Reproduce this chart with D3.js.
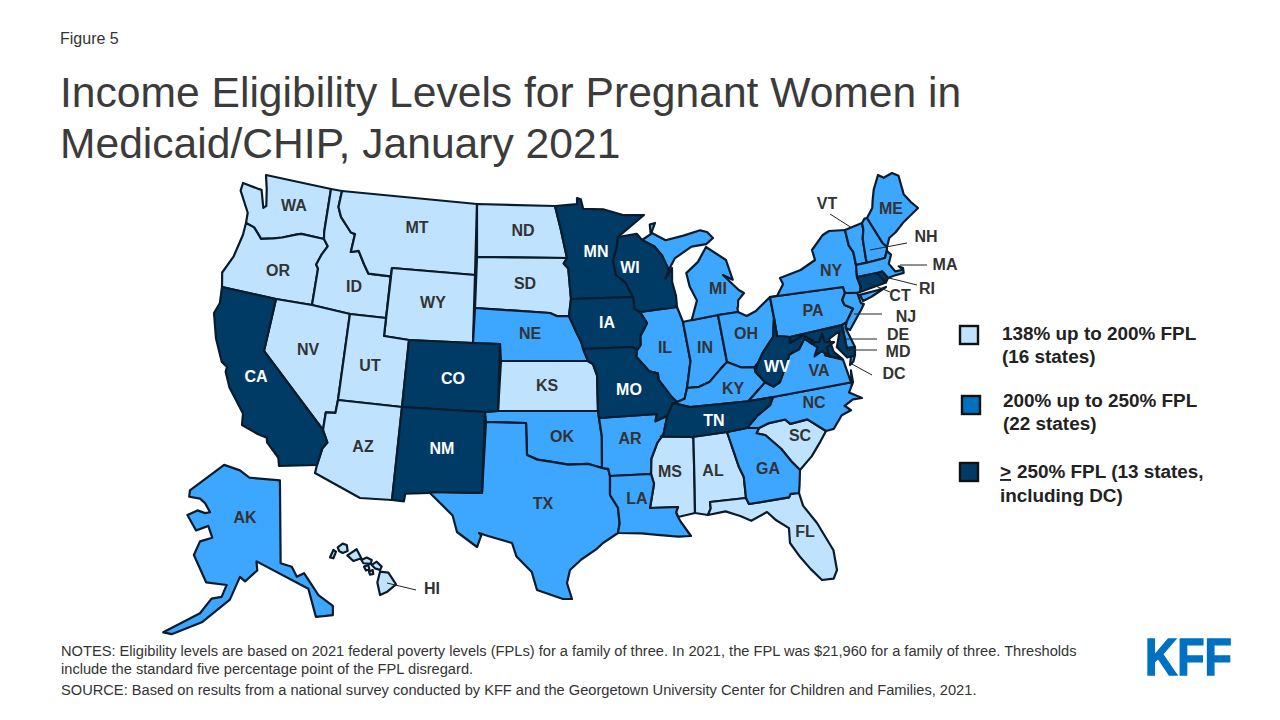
<!DOCTYPE html>
<html>
<head>
<meta charset="utf-8">
<script src="https://cdn.jsdelivr.net/npm/d3@7"></script>
<style>
  html, body { margin: 0; padding: 0; background: #fff; }
  svg { display: block; font-family: "Liberation Sans", Arial, sans-serif; }
  .state { stroke: #0a1c2b; stroke-width: 2.2; stroke-linejoin: round; }
  .abbr { font-size: 16px; font-weight: bold; text-anchor: middle; }
  .leader { stroke: #222; stroke-width: 1; }
</style>
</head>
<body>
<div id="chart"></div>
<script>
// Eligibility tiers
const tierNames = ['138% up to 200% FPL', '200% up to 250% FPL', '> 250% FPL'];
const tierFill = ['#bfe3ff', '#3da6ff', '#003b66'];
const tierKey = ['#bfe3ff', '#0070c0', '#003b66'];
const lowStates = ['WA','OR','ID','MT','WY','ND','SD','NV','UT','AZ','KS','MS','AL','SC','FL','HI'];
const midStates = ['NE','OK','TX','AR','LA','IL','IN','MI','OH','KY','GA','NC','VA','PA','NY','VT','NH','ME','MA','NJ','DE','AK'];
const highStates = ['CA','CO','NM','MN','WI','IA','MO','TN','WV','MD','CT','RI','DC'];

// State outlines, simplified, lon/lat
const WA = [[[-124.7,48.4],[-123.2,48.15],[-122.85,48.1],[-122.6,47.3],[-122.3,47.4],[-122.4,48.2],[-122.8,49],[-117.03,49],[-117.04,46.42],[-116.92,45.99],[-118.98,46],[-119.3,45.93],[-120.5,45.7],[-121.2,45.65],[-122.3,45.55],[-122.8,45.9],[-123.2,46.15],[-124,46.27],[-124.1,46.9],[-124.7,47.9]]];
const OR = [[[-124,46.27],[-123.2,46.15],[-122.8,45.9],[-122.3,45.55],[-121.2,45.65],[-120.5,45.7],[-119.3,45.93],[-118.98,46],[-116.92,45.99],[-116.46,45.6],[-116.85,45],[-117.2,44.4],[-117.03,44.2],[-117.03,42],[-120,42],[-124.2,42],[-124.55,42.85],[-124.1,44],[-123.95,45.5]]];
const CA = [[[-124.2,42],[-120,42],[-120,39],[-114.63,35],[-114.14,34.3],[-114.5,33.9],[-114.72,32.72],[-117.12,32.53],[-117.3,33],[-118.4,33.75],[-118.5,34.03],[-119.2,34.15],[-120.5,34.45],[-120.65,35.15],[-121.9,36.6],[-122.5,37.5],[-122.5,37.8],[-123,38],[-123.75,39],[-124.35,40.3],[-124.1,41]]];
const NV = [[[-120,42],[-117.03,42],[-114.04,42],[-114.05,37],[-114.04,36.2],[-114.74,36.1],[-114.63,35],[-120,39]]];
const ID = [[[-117.03,49],[-116.05,49],[-116.05,48],[-115.7,47.45],[-114.7,46.7],[-114.35,46.65],[-114.5,45.55],[-113.95,45.7],[-113.45,44.95],[-113,44.45],[-111.05,44.48],[-111.05,42],[-114.04,42],[-117.03,42],[-117.03,44.2],[-117.2,44.4],[-116.85,45],[-116.46,45.6],[-116.92,45.99],[-117.04,46.42]]];
const MT = [[[-116.05,49],[-104.05,49],[-104.05,45],[-111.05,45],[-111.05,44.48],[-113,44.45],[-113.45,44.95],[-113.95,45.7],[-114.5,45.55],[-114.35,46.65],[-114.7,46.7],[-115.7,47.45],[-116.05,48]]];
const WY = [[[-111.05,45],[-104.05,45],[-104.05,41],[-109.05,41],[-111.05,41]]];
const UT = [[[-114.05,42],[-111.05,42],[-111.05,41],[-109.05,41],[-109.05,37],[-114.05,37]]];
const CO = [[[-109.05,41],[-104.05,41],[-102.05,41],[-102.05,37],[-103,37],[-109.05,37]]];
const AZ = [[[-114.74,36.1],[-114.04,36.2],[-114.05,37],[-109.05,37],[-109.05,31.33],[-111.07,31.33],[-114.81,32.5],[-114.72,32.72],[-114.5,33.9],[-114.14,34.3],[-114.63,35]]];
const NM = [[[-109.05,37],[-103,37],[-103.04,32],[-106.62,32],[-106.53,31.78],[-108.2,31.78],[-108.2,31.33],[-109.05,31.33]]];
const ND = [[[-104.05,49],[-97.23,49],[-96.85,47.6],[-96.56,45.94],[-104.05,45.94]]];
const SD = [[[-104.05,45.94],[-96.56,45.94],[-96.85,45.6],[-96.45,45.3],[-96.45,43.5],[-96.5,42.5],[-97.9,42.8],[-98.5,43],[-104.05,43]]];
const NE = [[[-104.05,43],[-98.5,43],[-97.9,42.8],[-96.5,42.5],[-96.1,41.7],[-95.9,41],[-95.3,40],[-102.05,40],[-102.05,41],[-104.05,41]]];
const KS = [[[-102.05,40],[-95.3,40],[-94.9,39.8],[-94.6,39.1],[-94.62,37],[-102.05,37]]];
const OK = [[[-103,37],[-102.05,37],[-94.62,37],[-94.62,36.5],[-94.43,35.4],[-94.48,33.64],[-95.5,33.88],[-97,33.85],[-98.1,34.13],[-99.2,34.3],[-100,34.56],[-100,36.5],[-103,36.5]]];
const TX = [[[-106.62,32],[-103.04,32],[-103,36.5],[-100,36.5],[-100,34.56],[-99.2,34.3],[-98.1,34.13],[-97,33.85],[-95.5,33.88],[-94.48,33.64],[-94.04,33.55],[-94.04,33],[-94.04,32],[-93.55,31.2],[-93.7,30.3],[-93.85,29.7],[-94.7,29.4],[-95.2,29],[-96.4,28.35],[-97.2,27.7],[-97.4,26.9],[-97.15,25.96],[-97.6,25.9],[-99.1,26.4],[-99.5,27.5],[-100.3,28.3],[-100.7,29.1],[-101.4,29.77],[-102.3,29.88],[-102.7,29.7],[-103.15,28.98],[-104.5,29.6],[-104.9,30.6],[-106.53,31.78]]];
const MN = [[[-97.23,49],[-95.15,49],[-95.15,49.38],[-94.8,49.3],[-94.6,48.7],[-93,48.6],[-91.5,48.1],[-89.6,48],[-92.1,46.75],[-92.3,46.1],[-92.9,45.6],[-92.75,44.75],[-91.9,44.3],[-91.22,43.5],[-96.45,43.5],[-96.45,45.3],[-96.85,45.6],[-96.56,45.94],[-96.85,47.6]]];
const IA = [[[-96.45,43.5],[-91.22,43.5],[-91.1,42.7],[-90.64,42.5],[-90.15,41.8],[-91.05,41.2],[-91.1,40.7],[-91.42,40.38],[-91.73,40.6],[-95.77,40.58],[-95.9,41],[-96.1,41.7],[-96.5,42.5]]];
const MO = [[[-95.77,40.58],[-91.73,40.6],[-91.42,40.38],[-91.5,40],[-90.7,39],[-90.15,38.8],[-90.2,38.4],[-89.5,37.3],[-89.1,36.95],[-89.4,36.5],[-89.7,36],[-90.37,36],[-90.15,36.5],[-94.62,36.5],[-94.62,37],[-94.6,39.1],[-94.9,39.8],[-95.3,40]]];
const AR = [[[-94.62,36.5],[-90.15,36.5],[-90.37,36],[-89.7,36],[-90.1,35.1],[-90.6,34.7],[-91.1,33.9],[-91.17,33],[-94.04,33],[-94.04,33.55],[-94.48,33.64],[-94.43,35.4]]];
const LA = [[[-94.04,33],[-91.17,33],[-91,32.4],[-91.6,31],[-89.73,31],[-89.85,30.65],[-89.55,30.2],[-89.4,29.9],[-89.4,29.1],[-90.2,29.1],[-91.3,29.3],[-92.2,29.55],[-93.85,29.7],[-93.7,30.3],[-93.55,31.2],[-94.04,32]]];
const MS = [[[-91.17,33],[-91.1,33.9],[-90.6,34.7],[-90.3,35],[-88.2,35],[-88.1,34.9],[-88.47,31.9],[-88.4,30.3],[-89.55,30.2],[-89.85,30.65],[-89.73,31],[-91.6,31],[-91,32.4]]];
const AL = [[[-88.2,35],[-85.6,35],[-85.18,32.87],[-85,32.3],[-85.05,31],[-87.6,31],[-87.4,30.65],[-87.5,30.3],[-88.4,30.3],[-88.47,31.9],[-88.1,34.9]]];
const GA = [[[-85.6,35],[-84.32,35],[-83.1,35],[-83.35,34.7],[-82.7,34.5],[-81.9,33.5],[-81.4,32.6],[-80.9,32.03],[-81.3,31.2],[-81.45,30.72],[-82.05,30.75],[-82.2,30.55],[-84.86,30.7],[-85.05,31],[-85,32.3],[-85.18,32.87]]];
const FL = [[[-87.6,31],[-85.05,31],[-84.86,30.7],[-82.2,30.55],[-82.05,30.75],[-81.45,30.72],[-81.3,29.9],[-80.55,28.4],[-80.05,26.9],[-80.15,25.75],[-80.4,25.2],[-81.1,25.15],[-81.75,25.95],[-82.2,26.9],[-82.75,27.9],[-82.65,28.8],[-83.4,29.5],[-84,30.1],[-85,29.65],[-85.6,30],[-86.4,30.38],[-87.5,30.3],[-87.4,30.65]]];
const SC = [[[-83.1,35],[-82.3,35.2],[-81.05,35.15],[-80.8,34.82],[-79.68,34.8],[-78.55,33.86],[-79.2,33.2],[-79.9,32.7],[-80.9,32.03],[-81.4,32.6],[-81.9,33.5],[-82.7,34.5],[-83.35,34.7]]];
const NC = [[[-84.32,35],[-83.1,35],[-82.3,35.2],[-81.05,35.15],[-80.8,34.82],[-79.68,34.8],[-78.55,33.86],[-77.95,33.9],[-77.2,34.6],[-76.5,34.7],[-76.9,35.1],[-76.2,35.3],[-75.5,35.25],[-76.4,36],[-75.9,36.55],[-81.68,36.59],[-82,36.13],[-83.1,35.75]]];
const TN = [[[-90.3,35],[-88.2,35],[-85.6,35],[-84.32,35],[-83.1,35.75],[-82,36.13],[-81.68,36.59],[-83.68,36.6],[-88.07,36.5],[-89.4,36.5],[-89.7,36],[-90.1,35.1]]];
const KY = [[[-89.4,36.5],[-88.07,36.5],[-83.68,36.6],[-81.97,37.54],[-82.6,38.17],[-82.6,38.4],[-83.7,38.63],[-84.8,39.1],[-85.4,38.7],[-86.3,38],[-87.1,37.8],[-88.05,37.8],[-88.45,37.1],[-89.1,36.95]]];
const VA = [[[-83.68,36.6],[-81.68,36.59],[-75.9,36.55],[-76,37],[-76.3,37],[-76.3,37.9],[-77,38.3],[-77.05,38.85],[-77.5,39.1],[-77.83,39.13],[-78.35,39.4],[-78.87,38.76],[-79.65,38.58],[-80.3,37.5],[-81.22,37.24],[-81.97,37.54]],[[-75.95,37.15],[-75.6,37.95],[-75.25,38.03],[-75.6,37.5]]];
const WV = [[[-81.97,37.54],[-81.22,37.24],[-80.3,37.5],[-79.65,38.58],[-78.87,38.76],[-78.35,39.4],[-77.83,39.13],[-77.72,39.32],[-78.4,39.62],[-79.48,39.2],[-79.48,39.72],[-80.52,39.72],[-80.52,40.64],[-80.85,39.7],[-81.75,39],[-82.2,38.6],[-82.6,38.17]]];
const OH = [[[-84.8,41.76],[-83.45,41.73],[-82.7,41.45],[-81.7,41.5],[-80.52,41.98],[-80.52,40.64],[-80.85,39.7],[-81.75,39],[-82.2,38.6],[-82.6,38.4],[-83.7,38.63],[-84.8,39.1]]];
const IN = [[[-87.53,41.72],[-87.2,41.76],[-84.8,41.76],[-84.8,39.1],[-85.4,38.7],[-86.3,38],[-87.1,37.8],[-88.05,37.8],[-87.53,39.35]]];
const IL = [[[-90.64,42.5],[-87.8,42.5],[-87.53,41.72],[-87.53,39.35],[-88.05,37.8],[-88.45,37.1],[-89.1,36.95],[-89.5,37.3],[-90.2,38.4],[-90.15,38.8],[-90.7,39],[-91.5,40],[-91.42,40.38],[-91.1,40.7],[-91.05,41.2],[-90.15,41.8]]];
const WI = [[[-92.1,46.75],[-90.8,46.95],[-90.4,46.55],[-89.1,46.15],[-88.1,45.9],[-87.6,45.1],[-88,44.55],[-87.3,45.2],[-87.5,44.3],[-87.8,43.2],[-87.8,42.5],[-90.64,42.5],[-91.1,42.7],[-91.22,43.5],[-91.9,44.3],[-92.75,44.75],[-92.9,45.6],[-92.3,46.1]]];
const MI = [[[-86.8,41.76],[-84.8,41.76],[-83.45,41.73],[-83.1,42.2],[-82.5,42.6],[-82.45,43],[-82.6,43.9],[-83,44.07],[-83.9,43.65],[-83.3,44.3],[-83.3,45],[-84.75,45.78],[-85.5,45],[-86.25,44.7],[-86.5,43.7],[-86.2,42.8]],[[-90.4,46.55],[-89.2,46.85],[-88.4,47.4],[-87.9,47.47],[-88.4,46.9],[-87.4,46.5],[-86.2,46.65],[-85,46.75],[-84.4,46.5],[-83.9,46],[-84.7,45.95],[-85.9,45.95],[-87,45.75],[-87.6,45.1],[-88.1,45.9],[-89.1,46.15]]];
const PA = [[[-80.52,41.98],[-79.76,42.27],[-79.76,42],[-75.35,42],[-74.7,41.36],[-75.13,40.98],[-75.2,40.65],[-74.72,40.15],[-75.4,39.8],[-75.79,39.72],[-79.48,39.72],[-80.52,39.72],[-80.52,40.64]]];
const NY = [[[-79.76,42.27],[-78.9,42.85],[-79.05,43.27],[-77.5,43.25],[-76.2,43.55],[-76.3,44.1],[-75.3,44.85],[-74.7,45],[-73.35,45],[-73.4,44],[-73.25,43.55],[-73.27,42.75],[-73.5,42.05],[-73.5,41.3],[-73.65,41],[-73.9,41],[-74.7,41.36],[-75.35,42],[-79.76,42]],[[-74,40.6],[-73.75,40.85],[-72.6,40.98],[-72,41.05],[-73,40.62]]];
const VT = [[[-73.35,45],[-71.5,45],[-71.55,44.6],[-72.05,44.1],[-72.45,43],[-72.46,42.73],[-73.27,42.75],[-73.25,43.55],[-73.4,44]]];
const NH = [[[-71.5,45],[-71.3,45.3],[-71.08,45.3],[-70.98,43.4],[-70.7,43.07],[-70.82,42.87],[-71.3,42.7],[-72.46,42.73],[-72.45,43],[-72.05,44.1],[-71.55,44.6]]];
const ME = [[[-71.08,45.3],[-70.4,45.8],[-70.25,46.2],[-70,46.7],[-69.23,47.46],[-68.9,47.2],[-68.3,47.35],[-67.8,47.07],[-67.78,45.9],[-67.45,45.3],[-67,44.8],[-68.5,44.3],[-69.5,43.9],[-70.3,43.6],[-70.7,43.07],[-70.98,43.4]]];
const MA = [[[-73.5,42.05],[-73.27,42.75],[-72.46,42.73],[-71.3,42.7],[-70.82,42.87],[-70.6,42.65],[-71,42.3],[-70.55,41.8],[-70,41.8],[-70.25,42.07],[-69.95,41.9],[-70,41.6],[-70.65,41.55],[-71.13,41.5],[-71.38,42.02],[-71.8,42.02]]];
const CT = [[[-73.5,42.05],[-71.8,42.02],[-71.85,41.32],[-73.65,41],[-73.5,41.3]]];
const RI = [[[-71.8,42.02],[-71.38,42.02],[-71.13,41.5],[-71.85,41.32]]];
const NJ = [[[-74.7,41.36],[-73.9,41],[-74.2,40.5],[-73.98,40.4],[-74.1,39.75],[-74.9,38.93],[-75.55,39.5],[-75.4,39.8],[-74.72,40.15],[-75.2,40.65],[-75.13,40.98]]];
const DE = [[[-75.79,39.72],[-75.4,39.8],[-75.55,39.5],[-75.05,38.45],[-75.7,38.46]]];
const MD = [[[-79.48,39.72],[-75.79,39.72],[-75.7,38.46],[-75.05,38.45],[-75.25,38.03],[-75.9,37.95],[-76.2,38.6],[-76.05,39.4],[-76.5,39.2],[-76.45,38.4],[-76.3,37.95],[-77,38.3],[-77.05,38.85],[-77.5,39.1],[-77.83,39.13],[-77.72,39.32],[-78.4,39.62],[-79.48,39.2]]];
const AK = [[[-156.8,71.3],[-152.4,70.7],[-149.8,69.9],[-141.3,69.6],[-141.1,60.5],[-138,60.1],[-136.6,59],[-134.6,59.4],[-130.6,57],[-126.6,55.8],[-126.6,54.8],[-131.3,54.6],[-133.4,57.7],[-147.8,60.7],[-147.6,59.7],[-151,58.5],[-152.4,59],[-155.2,56.5],[-163,54],[-171.4,52.7],[-173.7,52.9],[-163.5,55],[-160.3,56.6],[-157.5,56.8],[-156.1,58.1],[-161.8,58.4],[-165.2,61.4],[-163.5,62.9],[-160.1,63.3],[-161.2,64.6],[-164.6,64.1],[-167,65.8],[-164.2,66.3],[-162.1,66],[-160.7,66.1],[-162.1,67.1],[-163.5,67.6],[-166.5,67.8],[-166.3,68.5]]];
const HI = [
  [[-160.67,21.39],[-160.36,21.91],[-160.12,21.79],[-160.36,21.32]],
  [[-159.96,22.1],[-159.5,22.36],[-159.13,22.26],[-159.04,21.84],[-159.5,21.7],[-159.84,21.84]],
  [[-159.07,21.53],[-158.21,21.96],[-157.78,21.32],[-158.52,21.13]],
  [[-157.78,21.2],[-157.28,21.37],[-156.82,21.2],[-156.92,20.92],[-157.59,20.97]],
  [[-156.82,20.85],[-156.36,21.08],[-155.9,20.73],[-156.05,20.49],[-156.52,20.61]],
  [[-157.53,20.73],[-157.13,20.85],[-157.04,20.54],[-157.35,20.45]],
  [[-157.07,20.38],[-156.73,20.49],[-156.67,20.21],[-156.98,20.16]],
  [[-156.05,20.38],[-155.28,20.3],[-154.57,19.48],[-155.38,18.96],[-156.05,18.72],[-156.3,19.6]]
];
const dcPoint = [-77.03, 38.9];

const outlines = {WA,OR,CA,NV,ID,MT,WY,UT,CO,AZ,NM,ND,SD,NE,KS,OK,TX,MN,IA,MO,AR,LA,MS,AL,GA,FL,SC,NC,TN,KY,VA,WV,OH,IN,IL,WI,MI,PA,NY,VT,NH,ME,MA,CT,RI,NJ,DE,MD,AK,HI};

// The source map is drawn a bit out of true, so the projection gets bent onto
// these reference spots [lon, lat, x, y]
const warpSpots = [
  [-124.7,48.4,243,183],[-122.8,49,266,175],[-117.03,49,331,189],[-116.05,49,342,191],[-104.05,49,477,204],
  [-116.92,45.99,324,239],[-124,46.27,246,223],[-124.2,42,222,287],[-117.03,42,312,305],[-120,42,276,299],
  [-114.04,42,350,314],[-111.05,42,386,318],[-111.05,45,392,268],[-104.05,45,475,275],[-111.05,41,384,336],
  [-109.05,41,409,340],[-104.05,41,473,343],[-102.05,41,500,344],[-102.05,37,498,411],[-109.05,37,402,407],
  [-114.05,37,338,400],[-120,39,264,351],[-114.63,35,323,430],[-114.72,32.72,317,465],[-117.12,32.53,279,466],
  [-120.5,34.45,242,425],[-122.5,37.8,227,367],[-124.35,40.3,214,313],[-114.81,32.5,315,473],[-111.07,31.33,360,498],
  [-109.05,31.33,392,500],[-103,37,485,412],[-103.04,32,482,493],[-106.62,32,430,492],
  [-97.23,49,555,206],[-95.15,49.38,577,198],[-89.6,48,644,215],[-92.1,46.75,618,237],[-96.56,45.94,567,258],
  [-104.05,45.94,477,257],[-104.05,43,475,308],[-98.5,43,550,313],[-96.5,42.5,569,316],[-96.45,43.5,571,299],
  [-91.22,43.5,633,297],[-90.64,42.5,640,312],[-87.8,42.5,677,307],[-87.53,41.72,683,322],[-84.8,41.76,718,315],
  [-83.45,41.73,738,312],[-95.77,40.58,583,349],[-91.73,40.6,633,347],[-95.3,40,588,361],[-102.05,40,501,361],
  [-94.62,37,598,411],[-89.4,36.5,673,403],[-89.1,36.95,677,402],[-88.05,37.8,687,388],[-84.8,39.1,727,362],
  [-92.75,44.75,616,275],[-90.4,46.55,642,240],[-87.9,47.47,655,223],[-83.9,46,713,238],[-87.3,45.2,672,268],
  [-84.75,45.78,706,247],[-82.6,43.9,744,293],[-83.9,43.65,723,275],[-82.5,42.6,738,307],[-94.62,36.5,599,418],[-90.15,36.5,657,414],
  [-103,36.5,486,422],[-100,36.5,526,423],[-100,34.56,527,455],[-94.48,33.64,602,468],[-94.04,33,610,476],
  [-91.17,33,651,474],[-94.04,32,610,495],[-93.85,29.7,618,533],[-94.7,29.4,603,543],[-97.2,27.7,570,570],
  [-97.15,25.96,572,599],[-97.6,25.9,563,599],[-99.1,26.4,537,590],[-100.7,29.1,512,543],[-101.4,29.77,488,536],
  [-103.15,28.98,477,547],[-104.5,29.6,457,532],[-106.53,31.78,430,493],[-89.4,29.1,691,536],[-91.6,31,650,508],[-89.73,31,678,507],
  [-88.2,35,692,437],[-85.6,35,727,432],[-83.1,35,759,428],[-84.32,35,747,428],[-81.68,36.59,773,397],
  [-75.9,36.55,853,382],[-75.5,35.25,862,398],[-78.55,33.86,826,431],[-80.9,32.03,800,470],[-81.45,30.72,799,493],
  [-84.86,30.7,749,504],[-85.05,31,746,498],[-87.6,31,710,502],[-88.4,30.3,695,513],[-81.1,25.15,822,580],
  [-80.15,25.75,837,570],[-80.55,28.4,817,523],[-82.75,27.9,790,543],[-84,30.1,767,512],[-87.5,30.3,708,515],[-89.55,30.2,678,517],
  [-69.23,47.46,878,175],[-68.3,47.35,892,173],[-67,44.8,918,208],[-70.7,43.07,887,247],[-71.08,45.3,867,218],
  [-71.5,45,862,223],[-73.35,45,845,230],[-74.7,45,829,231],[-76.3,44.1,812,250],[-76.2,43.55,815,260],
  [-79.05,43.27,780,278],[-79.76,42.27,777,296],[-75.35,42,843,287],[-79.76,42,770,297],[-80.52,41.98,770,297],
  [-80.52,39.72,777,336],[-80.52,40.64,774,318],[-75.79,39.72,842,325],[-73.27,42.75,856,265],[-71.3,42.7,885,258],
  [-73.5,42.05,857,277],[-71.8,42.02,877,273],[-69.95,41.9,903,268],[-71.13,41.5,888,278],[-73.65,41,860,292],
  [-72,41.05,886,287],[-74,40.6,863,301],[-74.7,41.36,845,293],[-74.9,38.93,850,330],[-74.1,39.75,861,310],
  [-75.05,38.45,855,347],[-75.25,38.03,855,355],[-75.95,37.15,850,365],[-77.03,38.9,822,346],
  [-80.3,37.5,780,382],[-79.48,39.72,790,337],[-79.48,39.2,790,343],[-76.3,37,852,385]
];

// Label spots inside the states [name, x, y]
const insideLabels = [['WA',294,205],['OR',278,270],['ID',354,286],['MT',417,227],['WY',433,302],['ND',523,230],['SD',525,283],['NV',308,349],['UT',370,365],['AZ',363,446],['CA',256,376],['CO',453,378],['NM',442,448],['NE',530,333],['KS',547,385],['OK',562,436],['TX',543,503],['MN',596,251],['IA',607,322],['MO',629,389],['AR',630,438],['LA',637,498],['WI',630,267],['IL',665,347],['IN',705,347],['MI',718,288],['OH',746,333],['KY',733,388],['TN',714,420],['MS',670,471],['AL',713,470],['GA',768,468],['FL',805,531],['SC',800,435],['NC',814,402],['VA',819,370],['WV',777,366],['PA',813,310],['NY',831,270],['ME',891,208],['AK',245,517]];
// Labels outside the map, with leader line [name, x, y, x1, y1, x2, y2]
const outsideLabels = [['VT',827,203,830,214,852,228],['NH',926,236,907,243,870,250],['MA',945,264,927,265,900,265],['RI',927,288,917,285,885,277],['CT',900,295,890,292,868,283],['NJ',906,316,882,314,854,314],['DE',898,334,877,339,845,339],['MD',898,351,877,350,845,350],['DC',894,373,872,375,850,363],['HI',432,588,416,590,387,583]];

const titleLines = ['Income Eligibility Levels for Pregnant Women in', 'Medicaid/CHIP, January 2021'];
const noteLines = [
  'NOTES: Eligibility levels are based on 2021 federal poverty levels (FPLs) for a family of three. In 2021, the FPL was $21,960 for a family of three. Thresholds',
  'include the standard five percentage point of the FPL disregard.',
  'SOURCE: Based on results from a national survey conducted by KFF and the Georgetown University Center for Children and Families, 2021.'
];

const svg = d3.select('#chart').append('svg').attr('width', 1280).attr('height', 720);

// Main map, Alaska and Hawaii each get their own placement
const projection = d3.geoAlbers().rotate([96, 0]).center([0, 37.5]).parallels([29.5, 45.5])
  .scale(930).translate([585, 407]);
const akX = d3.scaleLinear().domain([-141, -131]).range([281, 317]);
const akY = d3.scaleLinear().domain([60.3, 50.3]).range([565, 656]);
const hiX = d3.scaleLinear().domain([-159.5, -155.5]).range([342.7, 386]);
const hiY = d3.scaleLinear().domain([22.05, 19.6]).range([548, 582.6]);

// Shift each projected point by a distance weighted mean of the spot offsets
const spotOffsets = warpSpots.map(s => {
  const p = projection([s[0], s[1]]);
  return { x: p[0], y: p[1], dx: s[2] - p[0], dy: s[3] - p[1] };
});
const bent = lonlat => {
  const p = projection(lonlat);
  let wSum = 0, dx = 0, dy = 0;
  spotOffsets.forEach(s => {
    const r2 = (p[0] - s.x) ** 2 + (p[1] - s.y) ** 2;
    const w = 1 / ((r2 + 0.5) * (r2 + 0.5));
    wSum += w; dx += w * s.dx; dy += w * s.dy;
  });
  return [p[0] + dx / wSum, p[1] + dy / wSum];
};

const fillOf = name => {
  if (lowStates.includes(name)) return tierFill[0];
  if (midStates.includes(name)) return tierFill[1];
  return tierFill[2];
};
const locate = name => {
  if (name === 'AK') return p => [akX(p[0]), akY(p[1])];
  if (name === 'HI') return p => [hiX(p[0]), hiY(p[1])];
  return bent;
};
const ringPath = d3.line().curve(d3.curveLinearClosed);

const names = lowStates.concat(midStates, highStates).filter(n => outlines[n]);
svg.append('g').selectAll('path')
  .data(names)
  .enter()
  .append('path')
  .attr('class', 'state')
  .attr('fill', d => fillOf(d))
  .attr('d', d => outlines[d].map(r => ringPath(r.map(p => locate(d)(p)))).join(''));

// DC has no area at this size so it is a star
const dcXY = bent(dcPoint);
svg.append('path')
  .attr('class', 'state')
  .attr('fill', tierFill[2])
  .attr('d', d3.symbol(d3.symbolStar, 180)())
  .attr('transform', `translate(${dcXY[0]},${dcXY[1]})`);

// State labels
const darkLabel = d => highStates.includes(d[0]) ? '#fff' : '#333';
svg.selectAll('.inside')
  .data(insideLabels)
  .enter()
  .append('text')
  .attr('class', 'abbr inside')
  .attr('x', d => d[1]).attr('y', d => d[2] + 5.5)
  .attr('fill', d => darkLabel(d))
  .text(d => d[0]);
svg.selectAll('.leader')
  .data(outsideLabels)
  .enter()
  .append('line')
  .attr('class', 'leader')
  .attr('x1', d => d[3]).attr('y1', d => d[4])
  .attr('x2', d => d[5]).attr('y2', d => d[6]);
svg.selectAll('.outside')
  .data(outsideLabels)
  .enter()
  .append('text')
  .attr('class', 'abbr outside')
  .attr('x', d => d[1]).attr('y', d => d[2] + 5.5)
  .attr('fill', '#333')
  .text(d => d[0]);

// Headings
svg.append('text').attr('x', 60).attr('y', 44).attr('font-size', 16).attr('fill', '#333').text('Figure 5');
svg.selectAll('.title')
  .data(titleLines)
  .enter()
  .append('text')
  .attr('class', 'title')
  .attr('x', 60).attr('y', (d, i) => 107 + i * 51)
  .attr('font-size', 42.6).attr('fill', '#3b3b3b')
  .text(d => d);

// Legend
const keySquares = [[960, 326], [962, 396], [960, 463]];
svg.selectAll('.key')
  .data(keySquares)
  .enter()
  .append('rect')
  .attr('class', 'key')
  .attr('x', d => d[0]).attr('y', d => d[1])
  .attr('width', 18).attr('height', 18)
  .attr('fill', (d, i) => tierKey[i])
  .attr('stroke', '#111').attr('stroke-width', 2.4);
const keyText = [
  [1002, 340, tierNames[0]], [1002, 363, '(16 states)'],
  [1003, 407, tierNames[1]], [1003, 430, '(22 states)'],
  [1017, 478, '250% FPL (13 states,'], [1000, 502, 'including DC)']
];
svg.selectAll('.keytext')
  .data(keyText)
  .enter()
  .append('text')
  .attr('class', 'keytext')
  .attr('x', d => d[0]).attr('y', d => d[1])
  .attr('font-size', 18.9).attr('font-weight', 'bold').attr('fill', '#222')
  .text(d => d[2]);
svg.append('text').attr('x', 1000).attr('y', 478)
  .attr('font-size', 18.9).attr('font-weight', 'bold').attr('fill', '#222')
  .attr('text-decoration', 'underline').text('>');

// Footnotes
svg.selectAll('.note')
  .data(noteLines)
  .enter()
  .append('text')
  .attr('class', 'note')
  .attr('x', 61).attr('y', (d, i) => [656, 674, 695][i])
  .attr('font-size', 14.65).attr('fill', '#333')
  .text(d => d);

// Logo
svg.append('text').attr('transform', 'translate(1145,675) scale(0.86,1)')
  .attr('font-size', 52).attr('font-weight', 'bold').attr('fill', '#0070c0')
  .attr('stroke', '#0070c0').attr('stroke-width', 1.5)
  .text('KFF');
</script>
</body>
</html>
